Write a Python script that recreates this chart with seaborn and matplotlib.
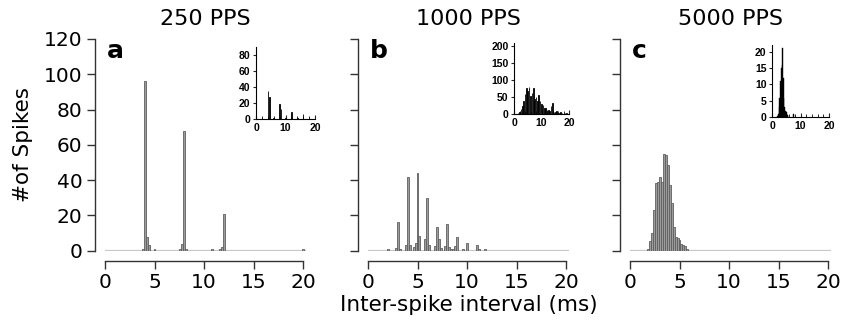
import numpy as np
import pandas as pd
import matplotlib
matplotlib.use("Agg")
import matplotlib.pyplot as plt
import seaborn as sns

# ---------------- data ----------------
titles = ["250 PPS", "1000 PPS", "5000 PPS"]
letters = ["a", "b", "c"]

# main histograms (bin centres in ms, spike counts), bin width 0.2 ms
a_isi = [3.8, 4.0, 4.2, 4.4, 5.0, 7.6, 7.8, 8.0, 8.2, 10.8, 11.6, 11.8, 12.0, 20.0]
a_cnt = [1, 96, 8, 3, 1, 1, 4, 68, 1, 1, 1, 2, 21, 1]

b_isi = [2.0, 2.8, 3.0, 3.2, 3.8, 4.0, 4.2, 4.6, 4.8, 5.0, 5.2, 5.8, 6.0, 6.2,
         6.8, 7.0, 7.2, 7.4, 7.8, 8.0, 8.2, 8.4, 8.6, 8.8, 9.0, 9.6, 10.0,
         11.0, 11.2, 11.8]
b_cnt = [1, 1.5, 16, 1, 3, 42, 3.5, 2, 4.5, 44, 8.5, 6.5, 30, 3.5,
         2.5, 13.5, 6.5, 1.5, 2.5, 15, 2, 1, 1, 2.5, 7.5, 1, 4.5,
         3.5, 1, 1]

c_isi = [1.8, 2.0, 2.2, 2.4, 2.6, 2.8, 3.0, 3.2, 3.4, 3.6, 3.8, 4.0, 4.2,
         4.4, 4.6, 4.8, 5.0, 5.2, 5.4, 5.6, 5.8]
c_cnt = [1, 5.5, 10, 23, 38.5, 39, 42, 39, 55, 54, 48.5, 37, 27,
         13.5, 8, 7, 6, 4, 3, 2.5, 1]

# inset histograms
ia_isi = [2.0, 4.0, 4.5, 6.0, 8.0, 8.5, 10.0, 12.0, 14.0, 16.0, 18.0]
ia_cnt = [1, 35, 27, 1.5, 19, 12, 1.5, 9, 1, 6, 1]

ib_isi = [1.0, 1.5, 2.0, 2.5, 3.0, 3.5, 4.0, 4.5, 5.0, 5.5, 6.0, 6.5, 7.0, 7.5,
          8.0, 8.5, 9.0, 9.5, 10.0, 10.5, 11.0, 11.5, 12.0, 12.5, 13.0, 13.5,
          14.0, 14.5, 15.0, 15.5, 16.0, 16.5, 17.0, 17.5, 18.0, 18.5, 19.0, 19.5]
ib_cnt = [2, 3, 6, 15, 25, 40, 60, 78, 70, 80, 55, 62, 78, 45,
          52, 38, 57, 40, 30, 28, 20, 18, 14, 12, 10, 25,
          32, 8, 6, 10, 5, 4, 6, 3, 2, 3, 5, 2]

ic_isi = [2.0, 2.25, 2.5, 2.75, 3.0, 3.25, 3.5, 3.75, 4.0, 4.25, 4.5, 4.75,
          5.0, 5.25, 5.5, 6.0, 7.5]
ic_cnt = [0.5, 1, 3, 6, 11, 15, 16, 21, 12, 6, 3, 2, 1.5, 1, 0.8, 0.5, 1]

main_sets = [(a_isi, a_cnt), (b_isi, b_cnt), (c_isi, c_cnt)]
inset_sets = [(ia_isi, ia_cnt, 0.5, (0, 90), [0, 20, 40, 60, 80]),
              (ib_isi, ib_cnt, 0.5, (0, 210), [0, 50, 100, 150, 200]),
              (ic_isi, ic_cnt, 0.25, (0, 22), [0, 5, 10, 15, 20])]

# ---------------- figure ----------------
sns.set_theme(style="ticks")
plt.rcParams['font.family'] = ['DejaVu Sans']
plt.rcParams['text.color'] = 'black'
plt.rcParams['axes.labelcolor'] = 'black'
plt.rcParams['xtick.labelcolor'] = 'black'
plt.rcParams['ytick.labelcolor'] = 'black'

W, H = 846, 324
fig = plt.figure(figsize=(W / 100, H / 100), dpi=100)

def px_rect(left, top, right, bottom):
    return [left / W, 1 - bottom / H, (right - left) / W, (bottom - top) / H]

xmax = 20.3
ppu = 9.9
main_left = [105, 368, 630]
inset_rect = [(256, 47, 315, 119), (514, 43, 569, 114.3), (772, 45, 829, 117.3)]

for i in range(3):
    L = main_left[i]
    ax = fig.add_axes(px_rect(L, 39, L + ppu * xmax, 250.7))
    isi, cnt = main_sets[i]
    df = pd.DataFrame({"isi": isi, "cnt": cnt})
    sns.histplot(data=df, x="isi", weights="cnt", binwidth=0.2, binrange=(-0.1, 20.3),
                 color="#9c9c9c", edgecolor="#5e5e5e", linewidth=0.6, alpha=1,
                 ax=ax, zorder=3)
    for p in list(ax.patches):
        if p.get_height() == 0:
            p.remove()
    ax.axhline(0, xmin=0, xmax=1, color="#c8c8c8", lw=1.6, zorder=2)
    ax.set_xlim(0, xmax)
    ax.set_ylim(0, 120)
    ax.set_xticks([0, 5, 10, 15, 20])
    ax.set_yticks([0, 20, 40, 60, 80, 100, 120])
    ax.tick_params(axis="both", labelsize=14.5, length=6, width=1, color="#333333",
                   direction="out", pad=3)
    if i > 0:
        ax.set_yticklabels([])
    sns.despine(ax=ax, offset=7.2, trim=True)
    for s in ("left", "bottom"):
        ax.spines[s].set_color("#333333")
        ax.spines[s].set_linewidth(1)
    ax.set_xlabel("Inter-spike interval (ms)" if i == 1 else "", fontsize=15.5, labelpad=2)
    ax.set_ylabel("#of Spikes" if i == 0 else "", fontsize=15.5, labelpad=8)
    ax.set_title(titles[i], fontsize=16, pad=10)
    ax.text(0.01, 1.0, letters[i], transform=ax.transAxes, fontsize=18,
            fontweight="bold", va="top", ha="left")

    # inset
    l, t, r, b = inset_rect[i]
    iax = fig.add_axes(px_rect(l, t, r, b))
    iisi, icnt, bw, ylim, yt = inset_sets[i]
    idf = pd.DataFrame({"isi": iisi, "cnt": icnt})
    sns.histplot(data=idf, x="isi", weights="cnt", binwidth=bw,
                 binrange=(-bw / 2, 20 + bw / 2),
                 color="black", edgecolor="black",
                 linewidth=0.6 if i < 2 else 0.3,
                 alpha=1, shrink=0.4 if i < 2 else 1.0, ax=iax)
    for p in list(iax.patches):
        if p.get_height() == 0:
            p.remove()
    iax.set_xlim(0, 20)
    iax.set_ylim(*ylim)
    iax.set_xticks([0, 10, 20])
    iax.set_xticks(np.arange(0, 21, 2), minor=True)
    iax.set_yticks(yt)
    iax.set_xlabel("")
    iax.set_ylabel("")
    iax.patch.set_alpha(0)
    for lab in iax.get_xticklabels() + iax.get_yticklabels():
        lab.set_family("Liberation Sans")
        lab.set_fontweight("bold")
    iax.tick_params(axis="x", which="major", direction="in", length=3, width=0.8,
                    labelsize=7.5, pad=3)
    iax.tick_params(axis="x", which="minor", direction="in", length=2, width=0.7)
    iax.tick_params(axis="y", direction="out", length=2.5, width=0.8, labelsize=7.5, pad=1.5)
    sns.despine(ax=iax)
    for s in ("left", "bottom"):
        iax.spines[s].set_linewidth(0.8)
        iax.spines[s].set_color("black")

fig.savefig("out.png", dpi=100)
